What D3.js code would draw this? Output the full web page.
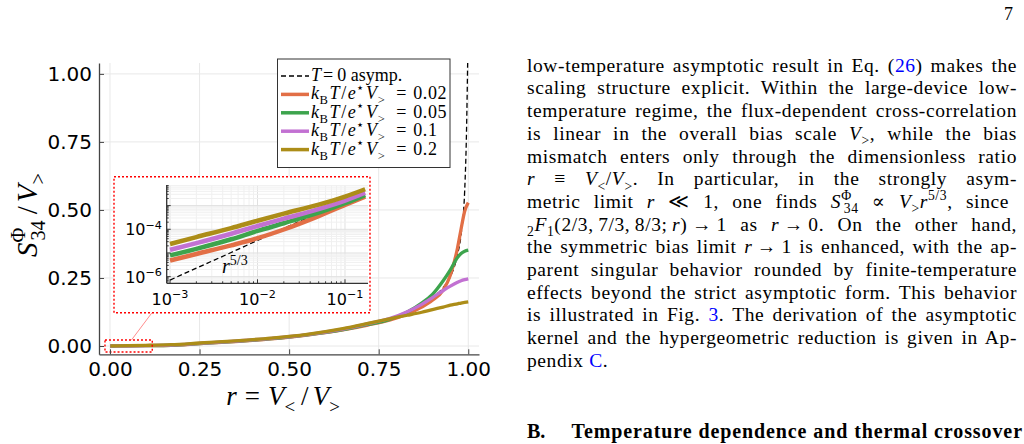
<!DOCTYPE html>
<html>
<head>
<meta charset="utf-8">
<script src="https://cdn.jsdelivr.net/npm/d3@7"></script>
<style>
  body { margin: 0; background: #fff; }
</style>
</head>
<body>
<script>
// values (main panel + log-log inset)
const rVals = [0.001, 0.002, 0.005, 0.01, 0.02, 0.05, 0.1, 0.17, 0.25, 0.35, 0.45, 0.55, 0.65, 0.72, 0.78, 0.83, 0.87, 0.90, 0.93, 0.95, 0.97, 0.98, 0.99, 1.0];
const s002 = [4.8e-6, 9.1e-6, 2.1e-5, 4.2e-5, 9.8e-5, 3.6e-4, 1.07e-3, 2.4e-3, 0.0085, 0.016, 0.026, 0.040, 0.059, 0.077, 0.095, 0.118, 0.143, 0.168, 0.205, 0.26, 0.36, 0.43, 0.495, 0.527];
const s005 = [7.9e-6, 1.5e-5, 3.8e-5, 8.5e-5, 1.8e-4, 5.0e-4, 1.26e-3, 2.8e-3, 0.009, 0.017, 0.027, 0.041, 0.060, 0.079, 0.098, 0.125, 0.158, 0.190, 0.240, 0.28, 0.325, 0.340, 0.348, 0.352];
const s01 = [1.35e-5, 2.6e-5, 6.5e-5, 1.38e-4, 2.8e-4, 7.1e-4, 1.62e-3, 3.5e-3, 0.0095, 0.018, 0.028, 0.042, 0.062, 0.082, 0.101, 0.126, 0.153, 0.178, 0.204, 0.220, 0.234, 0.240, 0.244, 0.247];
const s02 = [2.4e-5, 4.7e-5, 1.12e-4, 2.3e-4, 4.6e-4, 1.1e-3, 2.4e-3, 4.9e-3, 0.011, 0.019, 0.029, 0.043, 0.064, 0.083, 0.100, 0.113, 0.124, 0.134, 0.143, 0.150, 0.155, 0.158, 0.160, 0.162];

const rAsymp = [0.001, 0.002, 0.005, 0.01, 0.02, 0.05, 0.1, 0.17, 0.25, 0.35, 0.45, 0.55, 0.65, 0.72, 0.78, 0.83, 0.87, 0.90, 0.93, 0.95, 0.97, 0.98, 0.99, 0.995, 0.999];
const asymp = [7.2e-7, 2.3e-6, 1.05e-5, 3.4e-5, 1.1e-4, 5.0e-4, 1.65e-3, 4.0e-3, 0.009, 0.016, 0.026, 0.040, 0.060, 0.079, 0.099, 0.123, 0.150, 0.178, 0.215, 0.255, 0.335, 0.41, 0.57, 0.78, 1.1];

const tempLabels = ['0.02', '0.05', '0.1', '0.2'];
const colors = ['#e26f46', '#3da44d', '#c271d2', '#ac8d18'];
const xTicks = [0, 0.25, 0.5, 0.75, 1];
const yTicks = [0, 0.25, 0.5, 0.75, 1];
const insetXTicks = [-3, -2, -1];
const insetYTicks = [-6, -4];
const lensR = [-0.014, 0.118];
const lensV = [-0.022, 0.022];
const insetMaxR = 0.17;

const SERIF = '"Liberation Serif", "DejaVu Serif", serif';
const SANS = '"DejaVu Sans", sans-serif';

const svg = d3.select('body').append('svg').attr('width', 1024).attr('height', 444);
const defs = svg.append('defs');

// small helper for text with italics / sub / superscripts
const it = t => ({t, i: true});
const sb = t => ({t, sub: true});
const sp = t => ({t, sup: true});
const ln = t => ({t, c: '#0000ff'});

function rich(parent, segs, size, family) {
  const text = parent.append('text')
    .style('font-family', family || SERIF)
    .style('font-size', size + 'px')
    .attr('fill', '#000');
  let shift = 0;
  segs.forEach(s => {
    const seg = typeof s === 'string' ? {t: s} : s;
    const target = seg.sub ? 0.28 * size : seg.sup ? -0.42 * size : 0;
    const ts = text.append('tspan').text(seg.t);
    if (target !== shift) ts.attr('dy', target - shift);
    shift = target;
    if (seg.sub || seg.sup) ts.style('font-size', (0.7 * size) + 'px');
    if (seg.i) ts.style('font-style', 'italic');
    if (seg.b) ts.style('font-weight', 'bold');
    if (seg.c) ts.attr('fill', seg.c);
    if (seg.dx) ts.attr('dx', seg.dx);
  });
  return text;
}

//main panel scales
const plot = {l: 99, r: 479, t: 63, b: 354.3};
const x = d3.scaleLinear().domain([-0.0307, 1.03]).range([plot.l, plot.r]);
const y = d3.scaleLinear().domain([-0.0305, 1.04]).range([plot.b, plot.t]);

defs.append('clipPath').attr('id', 'main-clip')
  .append('rect').attr('x', plot.l).attr('y', plot.t)
  .attr('width', plot.r - plot.l).attr('height', plot.b - plot.t);

// grid
const grid = svg.append('g').attr('stroke', '#e8e8e8').attr('stroke-width', 1);
grid.selectAll('.gx').data(xTicks).join('line').attr('class', 'gx')
  .attr('x1', d => x(d)).attr('x2', d => x(d)).attr('y1', plot.t).attr('y2', plot.b);
grid.selectAll('.gy').data(yTicks).join('line').attr('class', 'gy')
  .attr('y1', d => y(d)).attr('y2', d => y(d)).attr('x1', plot.l).attr('x2', plot.r);

// curves
const line = d3.line().x(d => x(d[0])).y(d => y(d[1])).curve(d3.curveMonotoneX);
const curves = svg.append('g').attr('clip-path', 'url(#main-clip)').attr('fill', 'none');
curves.append('path').datum(d3.zip(rAsymp, asymp)).attr('d', line)
  .attr('stroke', '#000').attr('stroke-width', 1.3).attr('stroke-dasharray', '5,3');
[s002, s005, s01, s02].forEach((s, i) => {
  curves.append('path').datum(d3.zip(rVals, s)).attr('d', line)
    .attr('stroke', colors[i]).attr('stroke-width', 3.3);
});

// lens box on the main axes
svg.append('rect')
  .attr('x', x(lensR[0])).attr('y', y(lensV[1]))
  .attr('width', x(lensR[1]) - x(lensR[0])).attr('height', y(lensV[0]) - y(lensV[1]))
  .attr('fill', 'none').attr('stroke', 'red').attr('stroke-width', 1.4).attr('stroke-dasharray', '2,2');

// axes
const styleAxis = g => {
  g.select('.domain').attr('stroke', '#444').attr('stroke-width', 1.3);
  g.selectAll('.tick line').attr('stroke', '#444');
  g.selectAll('.tick text').style('font-family', SANS).style('font-size', '20px').attr('fill', '#000');
};
svg.append('g').attr('transform', `translate(0,${plot.b})`)
  .call(d3.axisBottom(x).tickValues(xTicks).tickFormat(d3.format('.2f')).tickSize(-5).tickSizeOuter(0).tickPadding(8))
  .call(styleAxis);
svg.append('g').attr('transform', `translate(${plot.l},0)`)
  .call(d3.axisLeft(y).tickValues(yTicks).tickFormat(d3.format('.2f')).tickSize(-5).tickSizeOuter(0).tickPadding(7))
  .call(styleAxis);

// axis titles
rich(svg, [it('r'), {t: '=', dx: 8}, {t: 'V', i: true, dx: 8}, sb('<'), {t: '/', dx: 6}, {t: 'V', i: true, dx: 4}, sb('>')], 27)
  .attr('x', 283).attr('y', 405).attr('text-anchor', 'middle');
rich(svg, [it('S'), sp('Φ'), {t: '34', sub: true, dx: -13}, {t: '/', dx: 6}, {t: 'V', i: true, dx: 4}, sb('>')], 29)
  .attr('text-anchor', 'middle').attr('transform', 'translate(37,215) rotate(-90)');

// legend
const legend = svg.append('g');
legend.append('rect').attr('x', 277.5).attr('y', 59).attr('width', 172.5).attr('height', 108.5)
  .attr('fill', '#fff').attr('stroke', '#333').attr('stroke-width', 1);
const rowY = i => 76 + i * 18.4;
legend.append('line').attr('x1', 281).attr('x2', 309).attr('y1', rowY(0)).attr('y2', rowY(0))
  .attr('stroke', '#000').attr('stroke-width', 1.3).attr('stroke-dasharray', '5,3');
rich(legend, [it('T'), {t: '=', dx: 2}, {t: '0 asymp.', dx: 4}], 18).attr('x', 311).attr('y', rowY(0) + 5);
tempLabels.forEach((lab, i) => {
  legend.append('line').attr('x1', 281).attr('x2', 309).attr('y1', rowY(i + 1)).attr('y2', rowY(i + 1))
    .attr('stroke', colors[i]).attr('stroke-width', 3.5);
  rich(legend, [it('k'), sb('B'), {t: 'T', i: true, dx: 1}, {t: '/', dx: 1}, {t: 'e', i: true, dx: 1}, sp('⋆'), {t: 'V', i: true, dx: 1}, sb('>'), {t: '= ', dx: 11}, {t: lab, dx: 1}], 18)
    .attr('x', 311).attr('y', rowY(i + 1) + 5).style('letter-spacing', '0.6px');
});

// inset (log-log zoom of small r)
const box = {l: 114, r: 370, t: 176.7, b: 312.7};
const ip = {l: 166.7, r: 368, t: 185, b: 283.3};
const ix = d3.scaleLog().domain([10 ** -3.038, 10 ** -0.737]).range([ip.l, ip.r]);
const iy = d3.scaleLog().domain([10 ** -6.28, 10 ** -2.13]).range([ip.b, ip.t]);

// connector from lens to inset
svg.append('line')
  .attr('x1', x(0.06)).attr('y1', y(lensV[1])).attr('x2', 152).attr('y2', box.b)
  .attr('stroke', 'rgba(255,0,0,0.45)').attr('stroke-width', 1);

svg.append('rect').attr('x', box.l).attr('y', box.t)
  .attr('width', box.r - box.l).attr('height', box.b - box.t)
  .attr('fill', '#fff').attr('stroke', 'red').attr('stroke-width', 1.4).attr('stroke-dasharray', '2,2');

defs.append('clipPath').attr('id', 'inset-clip')
  .append('rect').attr('x', ip.l).attr('y', ip.t).attr('width', ip.r - ip.l).attr('height', ip.b - ip.t);

const isDecade = d => Math.abs(Math.log10(d) - Math.round(Math.log10(d))) < 1e-9;
const minorX = [], minorY = [];
d3.range(-4, 0).forEach(e => d3.range(1, 10).forEach(m => {
  const v = m * 10 ** e;
  if (v >= ix.domain()[0] && v <= ix.domain()[1]) minorX.push(v);
}));
d3.range(-7, -1).forEach(e => d3.range(1, 10).forEach(m => {
  const v = m * 10 ** e;
  if (v >= iy.domain()[0] && v <= iy.domain()[1]) minorY.push(v);
}));

const igrid = svg.append('g');
igrid.selectAll('.mx').data(minorX).join('line')
  .attr('x1', d => ix(d)).attr('x2', d => ix(d)).attr('y1', ip.t).attr('y2', ip.b)
  .attr('stroke', d => isDecade(d) ? '#e0e0e0' : '#f0f0f0');
igrid.selectAll('.my').data(minorY).join('line')
  .attr('y1', d => iy(d)).attr('y2', d => iy(d)).attr('x1', ip.l).attr('x2', ip.r)
  .attr('stroke', d => isDecade(d) ? '#e0e0e0' : '#f0f0f0');

const iline = d3.line().x(d => ix(d[0])).y(d => iy(d[1])).curve(d3.curveMonotoneX);
const icurves = svg.append('g').attr('clip-path', 'url(#inset-clip)').attr('fill', 'none');
icurves.append('path').datum(d3.zip(rAsymp, asymp).filter(d => d[0] <= insetMaxR)).attr('d', iline)
  .attr('stroke', '#000').attr('stroke-width', 1.3).attr('stroke-dasharray', '5,3');
[s002, s005, s01, s02].forEach((s, i) => {
  icurves.append('path').datum(d3.zip(rVals, s).filter(d => d[0] <= insetMaxR)).attr('d', iline)
    .attr('stroke', colors[i]).attr('stroke-width', 4.5);
});

// inset axes
const iax = svg.append('g').attr('stroke', '#333');
iax.append('line').attr('x1', ip.l).attr('x2', ip.l).attr('y1', ip.t).attr('y2', ip.b).attr('stroke-width', 1.3);
iax.append('line').attr('x1', ip.l).attr('x2', ip.r).attr('y1', ip.b).attr('y2', ip.b).attr('stroke-width', 1.3);
iax.selectAll('.ty').data(minorY).join('line')
  .attr('x1', ip.l).attr('x2', d => ip.l + (isDecade(d) ? 4 : 2))
  .attr('y1', d => iy(d)).attr('y2', d => iy(d));
iax.selectAll('.tx').data(minorX).join('line')
  .attr('y1', ip.b).attr('y2', d => ip.b - (isDecade(d) ? 4 : 2))
  .attr('x1', d => ix(d)).attr('x2', d => ix(d));

insetXTicks.forEach(e => {
  rich(svg, ['10', {t: '\u2212' + (-e), sup: true}], 16, SANS)
    .attr('x', ix(10 ** e)).attr('y', 305).attr('text-anchor', 'middle');
});
insetYTicks.forEach(e => {
  rich(svg, ['10', {t: '\u2212' + (-e), sup: true}], 16, SANS)
    .attr('x', 162).attr('y', iy(10 ** e) + 6).attr('text-anchor', 'end');
});
rich(svg, [it('r'), sp('5/3')], 20).attr('x', 222).attr('y', 273);

// page text (right column)
const paraLines = [
  ['low-temperature asymptotic result in Eq. (', ln('26'), ') makes the'],
  ['scaling structure explicit. Within the large-device low-'],
  ['temperature regime, the flux-dependent cross-correlation'],
  ['is linear in the overall bias scale ', it('V'), sb('>'), ', while the bias'],
  ['mismatch enters only through the dimensionless ratio'],
  [it('r'), ' \u2261 ', it('V'), sb('<'), '/', it('V'), sb('>'), '. In particular, in the strongly asym-'],
  ['metric limit ', it('r'), ' \u226A 1, one finds ', it('S'), sp('Φ'), {t: '34', sub: true, dx: -8}, ' \u221D ', it('V'), sb('>'), it('r'), sp('5/3'), ', since'],
  [sb('2'), it('F'), sb('1'), '(2/3,\u20097/3,\u20098/3;\u2009', it('r'), ')\u2009\u2192\u20091 as ', it('r'), '\u2009\u2192\u20090. On the other hand,'],
  ['the symmetric bias limit ', it('r'), '\u2009\u2192\u20091 is enhanced, with the ap-'],
  ['parent singular behavior rounded by finite-temperature'],
  ['effects beyond the strict asymptotic form. This behavior'],
  ['is illustrated in Fig. ', ln('3'), '. The derivation of the asymptotic'],
  ['kernel and the hypergeometric reduction is given in Ap-'],
  ['pendix ', ln('C'), '.']
];
const colX = 527, colW = 490;
paraLines.forEach((segs, k) => {
  const t = rich(svg, segs, 19.5).attr('x', colX).attr('y', 71.7 + k * 22.7)
    .style('letter-spacing', '0.6px');
  if (k < paraLines.length - 1) {
    const w = t.node().getComputedTextLength();
    const n = (t.text().match(/ /g) || []).length;
    if (n) t.style('word-spacing', ((colW - w) / n) + 'px');
  }
});

svg.append('text').attr('x', colX).attr('y', 438.3)
  .style('font-family', SERIF).style('font-size', '20px').style('font-weight', 'bold').text('B.');
const head = svg.append('text').attr('x', 571.5).attr('y', 438.3)
  .style('font-family', SERIF).style('font-size', '20px').style('font-weight', 'bold')
  .style('letter-spacing', '0.9px')
  .text('Temperature dependence and thermal crossover');
const hw = head.node().getComputedTextLength();
head.style('word-spacing', Math.max(0, (colX + colW - 571.5 - hw) / 4) + 'px');

svg.append('text').attr('x', 1013).attr('y', 20).attr('text-anchor', 'end')
  .style('font-family', SERIF).style('font-size', '18px').text('7');
</script>
</body>
</html>
